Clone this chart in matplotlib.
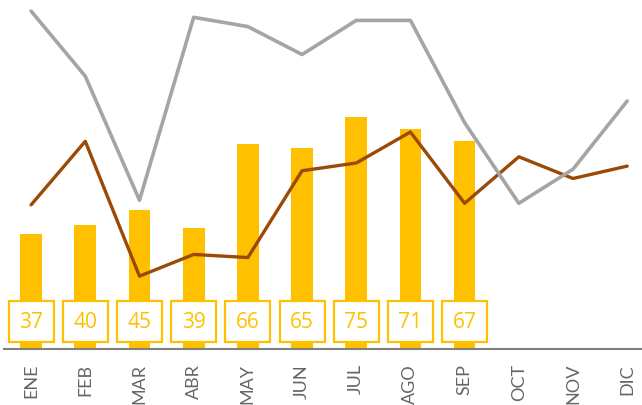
import matplotlib
matplotlib.use("Agg")
import matplotlib.pyplot as plt
from matplotlib.patches import Rectangle

months = ["ENE", "FEB", "MAR", "ABR", "MAY", "JUN", "JUL", "AGO", "SEP", "OCT", "NOV", "DIC"]
bar_values = [37, 40, 45, 39, 66, 65, 75, 71, 67]
gray_values = [109, 88, 48, 107, 104, 95, 106, 106, 73, 47, 58, 80]
brown_values = [46.5, 67, 23.5, 30.5, 29.5, 57.5, 60, 70, 47, 62, 55, 59]

GOLD = "#FFC000"
GRAY = "#A5A5A5"
BROWN = "#9A4A06"

plt.rcParams['font.family'] = ['Open Sans', 'DejaVu Sans']

fig = plt.figure(figsize=(6.42, 4.06), dpi=100)
ax = fig.add_axes([4/642, 1 - 350/406, 1 - 4/642, 350/406])

x = list(range(len(months)))
xb = x[:len(bar_values)]
ax.bar(xb, bar_values, width=0.4, color=GOLD, zorder=2)

ax.plot(x, brown_values, color=BROWN, lw=2.4, zorder=3, clip_on=False, solid_capstyle='round', solid_joinstyle='round')
ax.plot(x, gray_values, color=GRAY, lw=2.6, zorder=4, clip_on=False, solid_capstyle='round', solid_joinstyle='round')

# label boxes
bw = 45/54.2
by0 = 7/3.1
bh = 41/3.1
for xi, v in zip(xb, bar_values):
    ax.add_patch(Rectangle((xi - bw/2, by0), bw, bh, facecolor="white", edgecolor=GOLD, lw=1.6, zorder=5))
    ax.text(xi, by0 + bh/2, str(v), ha="center", va="center", color=GOLD, fontsize=15, zorder=6)

ax.set_xlim(-0.5, (642 - 31)/54.2)
ax.set_ylim(0, 350/3.1)
ax.set_xticks(x)
ax.set_xticklabels(months, rotation=90, color="#666666", fontsize=13, family=['Lato', 'DejaVu Sans'])
ax.tick_params(axis='x', length=0, pad=10)
ax.set_yticks([])
for s in ["top", "right", "left"]:
    ax.spines[s].set_visible(False)
ax.spines["bottom"].set_color("#7F7F7F")
ax.spines["bottom"].set_linewidth(1.5)
ax.spines["bottom"].set_zorder(7)

fig.savefig("out.png", dpi=100)
